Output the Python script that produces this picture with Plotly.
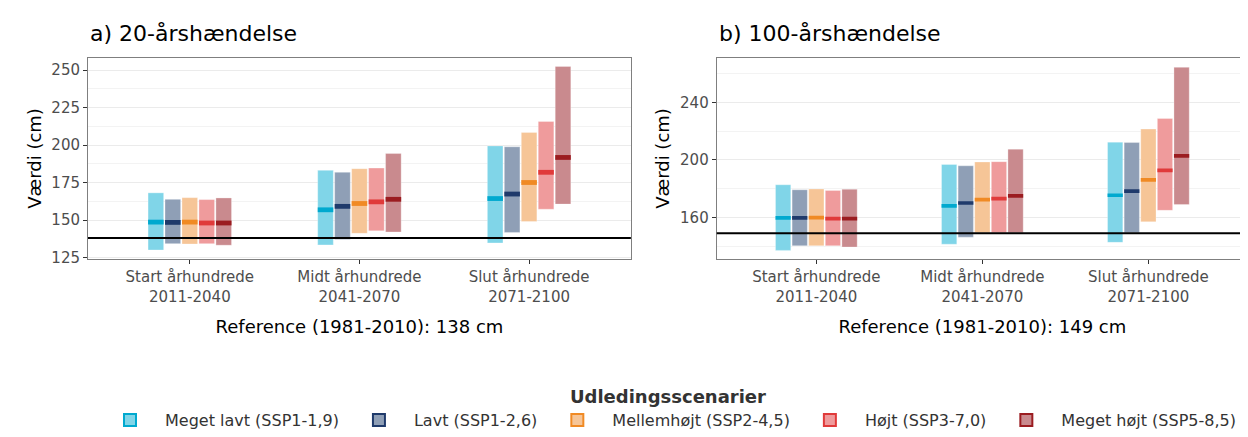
import plotly.graph_objects as go
from plotly.subplots import make_subplots

periods = ["Start århundrede<br>2011-2040", "Midt århundrede<br>2041-2070", "Slut århundrede<br>2071-2100"]
scenarios = ["Meget lavt (SSP1-1,9)", "Lavt (SSP1-2,6)", "Mellemhøjt (SSP2-4,5)", "Højt (SSP3-7,0)", "Meget højt (SSP5-8,5)"]
dark = ["#00A9CF", "#1F3A6B", "#F08A24", "#E03A3A", "#9B1C20"]
light = ["#80D5E8", "#8F9FB6", "#F6C597", "#EF9B9C", "#C98A8E"]

# 20-årshændelse: [scenario][period]
lo20 = [[130, 133.4, 134.7], [134.2, 137, 141.7], [134, 141.1, 149], [134.2, 142.8, 157.2], [133.2, 142, 160.6]]
hi20 = [[168.1, 183.1, 199.4], [163.8, 181.8, 198.8], [164.9, 184.2, 208.4], [163.6, 184.6, 215.7], [164.7, 194.3, 252.4]]
med20 = [[148.6, 156.8, 164.3], [148.4, 159.1, 167.3], [148.6, 161, 175], [148, 162.1, 181.8], [148, 163.8, 191.7]]
ref20 = 138

# 100-årshændelse
lo100 = [[137, 141.3, 142.6], [140.2, 146.2, 149.3], [140.2, 149.3, 156.9], [140.2, 149.3, 164.9], [139.3, 149.3, 168.9]]
hi100 = [[182.7, 196.8, 212.4], [179.2, 195.9, 212.1], [179.8, 198.6, 221.5], [178.7, 198.8, 228.9], [179.6, 207.5, 264.5]]
med100 = [[159.6, 168, 175.4], [159.6, 170, 178.3], [159.8, 172.3, 186.1], [159.1, 173.1, 192.8], [159.1, 174.9, 202.8]]
ref100 = 149

fig = make_subplots(rows=1, cols=2)

def add_panel(col, lo, hi, med, half):
    for i, name in enumerate(scenarios):
        xs = [g + (i - 2) * 0.1 for g in range(3)]
        fig.add_trace(go.Bar(x=xs, y=[h - l for h, l in zip(hi[i], lo[i])], base=lo[i], width=0.092,
                             marker=dict(color=light[i], line=dict(color="rgba(255,255,255,0.6)", width=0.5)),
                             legendgroup=name, showlegend=False), row=1, col=col)
        fig.add_trace(go.Bar(x=xs, y=[2 * half] * 3, base=[m - half for m in med[i]], width=0.092,
                             marker=dict(color=dark[i], line=dict(width=0)),
                             legendgroup=name, showlegend=False), row=1, col=col)

add_panel(1, lo20, hi20, med20, 1.6)
add_panel(2, lo100, hi100, med100, 1.3)

# legend-only entries
for i, name in enumerate(scenarios):
    fig.add_trace(go.Bar(x=[None], y=[None], name=name, legendgroup=name,
                         marker=dict(color=light[i], line=dict(color=dark[i], width=2))), row=1, col=1)

fig.add_hline(y=ref20, line=dict(color="black", width=2), row=1, col=1)
fig.add_hline(y=ref100, line=dict(color="black", width=2), row=1, col=2)

ax = dict(tickmode="array", tickvals=[0, 1, 2], ticktext=periods, range=[-0.6, 2.6],
          showgrid=False, ticks="outside", tickcolor="#333", ticklen=4,
          tickfont=dict(size=15, color="#4d4d4d"), showline=True, linecolor="#7f7f7f", mirror=True)
fig.update_xaxes(**ax)
fig.update_xaxes(domain=[0, 0.468], title=dict(text="Reference (1981-2010): 138 cm", font=dict(size=18, color="black")), row=1, col=1)
fig.update_xaxes(domain=[0.542, 1], title=dict(text="Reference (1981-2010): 149 cm", font=dict(size=18, color="black")), row=1, col=2)
ay = dict(gridcolor="#ebebeb", ticks="outside", tickcolor="#333", ticklen=4, zeroline=False,
          tickfont=dict(size=15, color="#4d4d4d"), showline=True, linecolor="#7f7f7f", mirror=True,
          title=dict(text="Værdi (cm)", font=dict(size=18, color="black"), standoff=5))
fig.update_yaxes(**ay)
fig.update_yaxes(range=[124, 258], tickvals=[125, 150, 175, 200, 225, 250],
                 minor=dict(tickvals=[137.5, 162.5, 187.5, 212.5, 237.5], gridcolor="#f3f3f3", ticks=""), row=1, col=1)
fig.update_yaxes(range=[131, 271], tickvals=[160, 200, 240],
                 minor=dict(tickvals=[140, 180, 220, 260], gridcolor="#f3f3f3", ticks=""), row=1, col=2)

fig.add_annotation(text="a) 20-årshændelse", xref="paper", yref="paper", x=0.0, y=1.12,
                   xanchor="left", yanchor="middle", showarrow=False, font=dict(size=22, color="black"))
fig.add_annotation(text="b) 100-årshændelse", xref="paper", yref="paper", x=0.542, y=1.12,
                   xanchor="left", yanchor="middle", showarrow=False, font=dict(size=22, color="black"))

fig.update_layout(
    width=1248, height=437, barmode="overlay", plot_bgcolor="white", paper_bgcolor="white",
    font=dict(family="DejaVu Sans"),
    margin=dict(l=80, r=8, t=50, b=177),
    legend=dict(orientation="h", x=0.5, xanchor="center", y=-0.6, yanchor="top",
                title=dict(text="<b>Udledingsscenarier</b>", side="top center", font=dict(size=18)),
                font=dict(size=16, color="#333"), itemwidth=60),
)

fig.write_html("out.html")
